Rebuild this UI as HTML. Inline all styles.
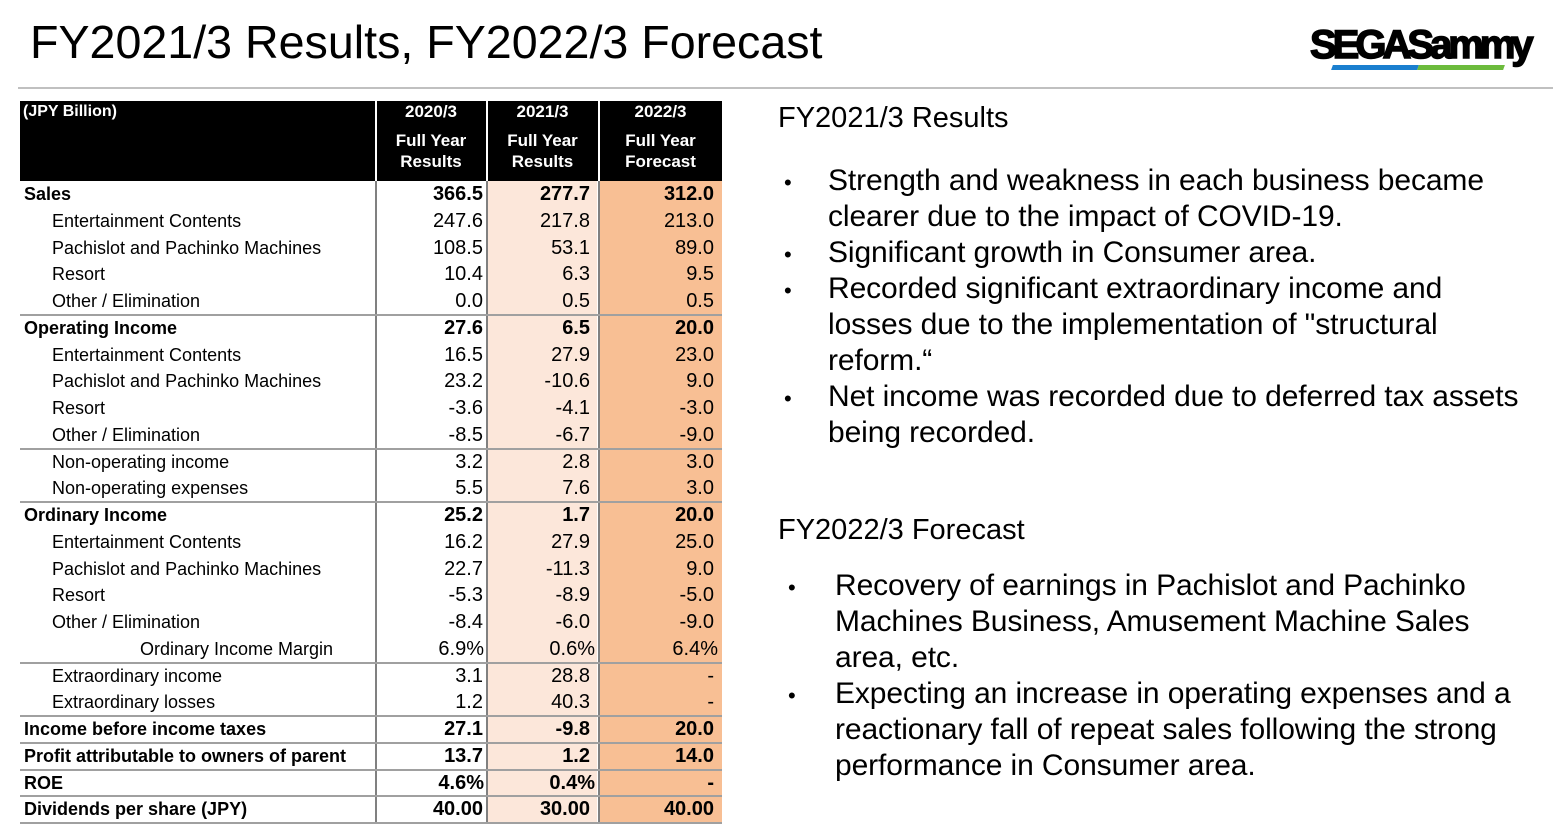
<!DOCTYPE html>
<html><head><meta charset="utf-8">
<style>
body{margin:0;width:1553px;height:830px;background:#fff;position:relative;overflow:hidden;font-family:"Liberation Sans",Arial,sans-serif;color:#000}
.abs{position:absolute}
#title{left:30px;top:15px;font-size:46.6px;white-space:nowrap}
#rule{left:18px;top:87px;width:1535px;height:2px;background:#c0c0c0}
.cell{position:absolute;font-family:"Liberation Sans Narrow","Liberation Sans",sans-serif;font-size:18px;white-space:nowrap;line-height:26px}
.num{text-align:right;font-size:20px}
.hd{color:#fff;font-weight:bold;text-align:center;font-size:17px;font-family:"Liberation Sans",sans-serif}
.rt{font-size:30px;white-space:nowrap;line-height:36px;letter-spacing:-0.1px}
.bul{position:absolute;font-size:22px}
</style></head><body>
<div class="abs" id="title">FY2021/3 Results, FY2022/3 Forecast</div>
<div class="abs" id="rule"></div>
<div class="abs" style="left:1310px;top:23px;width:225px;height:52px">
  <div style="position:absolute;left:0;top:0;font:900 40px 'Liberation Sans',sans-serif;letter-spacing:-4px;-webkit-text-stroke:1.5px #000">SEGASammy</div>
  <div style="position:absolute;left:22px;top:42px;width:86px;height:5px;background:#1a7fcf;transform:skewX(-20deg)"></div>
  <div style="position:absolute;left:108px;top:42px;width:86px;height:5px;background:#6cbb3c;transform:skewX(-20deg)"></div>
</div>

<div class="abs" id="table" style="left:0;top:0;width:740px;height:830px"></div>

<div class="abs" style="left:778px;top:100px">
  <div class="abs" style="left:0;top:2px;font-size:29px;white-space:nowrap">FY2021/3 Results</div>
  <div class="abs rt" style="left:50px;top:63px">Strength and weakness in each business became<br>clearer due to the impact of COVID-19.</div>
  <div class="abs rt" style="left:50px;top:135px">Significant growth in Consumer area.</div>
  <div class="abs rt" style="left:50px;top:171px">Recorded significant extraordinary income and<br>losses due to the implementation of "structural<br>reform.“</div>
  <div class="abs rt" style="left:50px;top:279px">Net income was recorded due to deferred tax assets<br>being recorded.</div>
  <div class="bul" style="left:6px;top:70px">•</div><div class="bul" style="left:6px;top:142px">•</div><div class="bul" style="left:6px;top:178px">•</div><div class="bul" style="left:6px;top:286px">•</div>
</div>
<div class="abs" style="left:778px;top:512px">
  <div class="abs" style="left:0;top:2px;font-size:29px;white-space:nowrap">FY2022/3 Forecast</div>
  <div class="abs rt" style="left:57px;top:56px">Recovery of earnings in Pachislot and Pachinko<br>Machines Business, Amusement Machine Sales<br>area, etc.</div>
  <div class="abs rt" style="left:57px;top:164px">Expecting an increase in operating expenses and a<br>reactionary fall of repeat sales following the strong<br>performance in Consumer area.</div>
  <div class="bul" style="left:10px;top:63px">•</div><div class="bul" style="left:10px;top:171px">•</div>
</div>

<script>
const labels=["Sales","Entertainment Contents","Pachislot and Pachinko Machines","Resort","Other / Elimination","Operating Income","Entertainment Contents","Pachislot and Pachinko Machines","Resort","Other / Elimination","Non-operating income","Non-operating expenses","Ordinary Income","Entertainment Contents","Pachislot and Pachinko Machines","Resort","Other / Elimination","Ordinary Income Margin","Extraordinary income","Extraordinary losses","Income before income taxes","Profit attributable to owners of parent","ROE","Dividends per share (JPY)"];
const fy2020=["366.5","247.6","108.5","10.4","0.0","27.6","16.5","23.2","-3.6","-8.5","3.2","5.5","25.2","16.2","22.7","-5.3","-8.4","6.9%","3.1","1.2","27.1","13.7","4.6%","40.00"];
const fy2021=["277.7","217.8","53.1","6.3","0.5","6.5","27.9","-10.6","-4.1","-6.7","2.8","7.6","1.7","27.9","-11.3","-8.9","-6.0","0.6%","28.8","40.3","-9.8","1.2","0.4%","30.00"];
const fy2022=["312.0","213.0","89.0","9.5","0.5","20.0","23.0","9.0","-3.0","-9.0","3.0","3.0","20.0","25.0","9.0","-5.0","-9.0","6.4%","-","-","20.0","14.0","-","40.00"];
const boldRows=[0,5,12,20,21,22,23];
const sepAfter=[4,9,11,17,19,20,21,22,23];
const T=document.getElementById('table');
const top0=181,rh=26.75;
function add(html,style,name){const d=document.createElement('div');d.className='cell';d.style.cssText=style;d.innerHTML=html;


T.appendChild(d);return d;}
add('','left:487px;top:181px;width:110px;height:642px;background:#fce7da','col-2021-bg');
add('','left:599px;top:181px;width:123px;height:642px;background:#f8bf94','col-2022-bg');
add('','left:20px;top:101px;width:702px;height:80px;background:#000','header-bg');
add('(JPY Billion)','left:23px;top:99px;color:#fff;font-weight:bold;font-family:"Liberation Sans",sans-serif;font-size:16px','unit-label');
const hy=["2020/3","2021/3","2022/3"],hs=["Full Year<br>Results","Full Year<br>Results","Full Year<br>Forecast"],hx=[376,487,599],hw=[110,111,123];
for(let i=0;i<3;i++){
 const a=add(hy[i],`left:${hx[i]}px;top:99px;width:${hw[i]}px;line-height:26px`,'header-year');a.classList.add('hd');
 const b=add(hs[i],`left:${hx[i]}px;top:130px;width:${hw[i]}px;line-height:21px`,'header-type');b.classList.add('hd');
}
[375,486,598].forEach(x=>{add('',`left:${x}px;top:101px;width:2px;height:722px;background:#808080`,'column-divider');});
[375,486,598].forEach(x=>{add('',`left:${x}px;top:101px;width:2px;height:80px;background:#fff`,'header-divider');});
for(let i=0;i<labels.length;i++){
 const y=top0+i*rh, b=boldRows.includes(i);
 const fw=b?'font-weight:bold;':'';
 let lx=b?24:52;
 if(i===17){lx=140;}
 add(labels[i],`left:${lx}px;top:${y}px;${fw}`,'row-label');
 add(fy2020[i],`left:376px;top:${y}px;width:${fy2020[i].includes('%')?108:107}px;${fw}`,'value-2020').classList.add('num');
 add(fy2021[i],`left:487px;top:${y}px;width:${fy2021[i].includes('%')?108:103}px;${fw}`,'value-2021').classList.add('num');
 add(fy2022[i],`left:599px;top:${y}px;width:${fy2022[i].includes('%')?119:115}px;${fw}`,'value-2022').classList.add('num');
 if(sepAfter.includes(i)) add('',`left:20px;top:${y+rh-1}px;width:702px;height:2px;background:#a0a0a0`,'row-separator');
}
</script>
</body></html>
